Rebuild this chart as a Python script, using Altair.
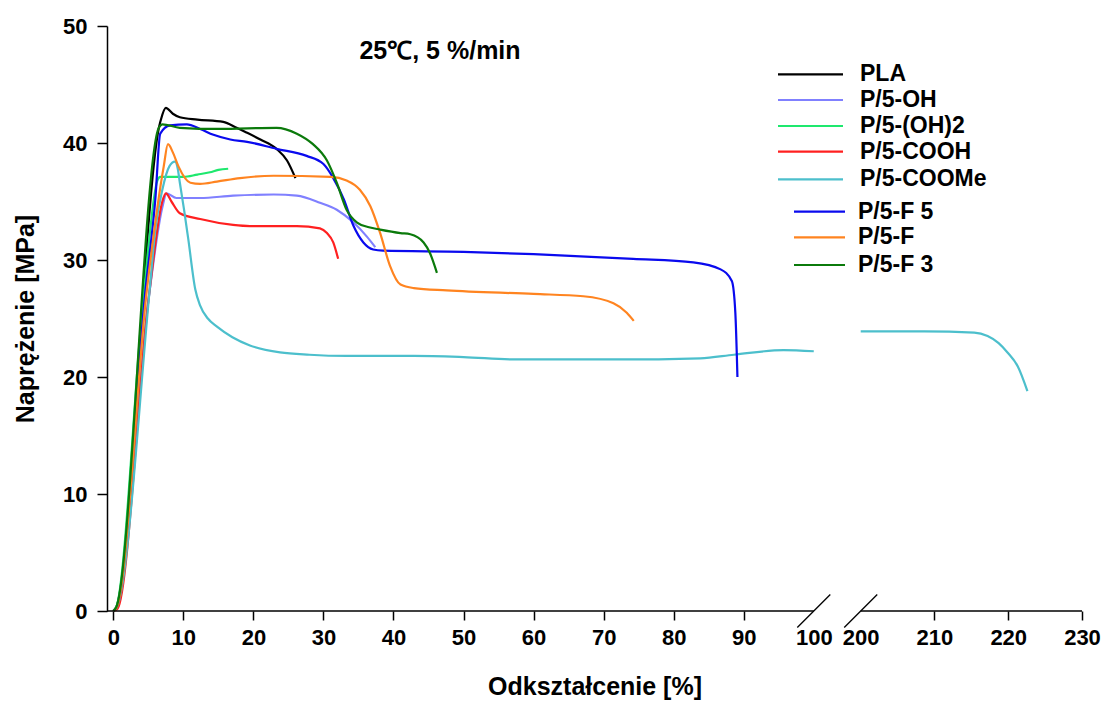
import altair as alt
import pandas as pd

# ---------------- data ----------------
series_names = ["PLA", "P/5-OH", "P/5-(OH)2", "P/5-COOH", "P/5-COOMe", "P/5-F 5", "P/5-F", "P/5-F 3"]
series_colors = ["#000000", "#8080ff", "#1ee86e", "#ff2020", "#4cbfcc", "#0a0aee", "#ff8420", "#0b7a0b"]

pla_x = [0, 0.4, 6.7, 7.5, 8.5, 9.5, 12, 15.7, 17.6, 19, 21, 23.3, 24.8, 26]
pla_y = [0, 0.3, 41.8, 43.0, 42.5, 42.2, 42.0, 41.8, 41.3, 40.9, 40.3, 39.5, 38.5, 37.0]

oh_x = [0, 0.5, 5.0, 7.0, 7.6, 9, 12.4, 17.1, 22.9, 26.2, 29.5, 31.9, 34.3, 36.2, 37.4]
oh_y = [0, 0.3, 26.5, 34.5, 35.7, 35.3, 35.3, 35.5, 35.6, 35.5, 34.9, 34.3, 33.2, 32.0, 31.1]

oh2_x = [0, 0.4, 4.4, 6.3, 6.7, 10, 12, 13.8, 15, 16.4]
oh2_y = [0, 0.3, 27.5, 36.8, 37.1, 37.1, 37.3, 37.5, 37.7, 37.8]

cooh_x = [0, 0.6, 5.1, 7.0, 7.5, 8.3, 9.5, 12.4, 17.1, 19.5, 26.2, 29.5, 30.5, 31.4, 32.1]
cooh_y = [0, 0.2, 27.0, 35.0, 35.7, 35.0, 34.0, 33.5, 33.0, 32.9, 32.9, 32.7, 32.3, 31.5, 30.1]

coome_x = [0, 0.5, 5.2, 6.0, 7.0, 8.0, 8.8, 9.2, 9.5, 10.1, 10.7, 11.7, 12.4, 13.5, 14.8,
           17, 19.5, 23.8, 28, 33.3, 42.9, 50, 57.6, 71.9, 83.8, 88.6, 95.7, 100,
           200, 208.6, 215.4, 217.2, 218.7, 219.9, 221.3, 222.6]
coome_y = [0, 0.3, 27.5, 32.6, 36.0, 38.0, 38.4, 37.8, 36.6, 34.3, 31.8, 27.5, 26.1, 25.0, 24.3,
           23.4, 22.7, 22.1, 21.9, 21.8, 21.8, 21.7, 21.5, 21.5, 21.6, 21.9, 22.3, 22.2,
           23.9, 23.9, 23.8, 23.5, 22.9, 22.1, 20.9, 18.8]

f5_x = [0, 0.5, 4.6, 6.0, 6.7, 8.1, 10.5, 12.4, 14.3, 16.7, 19.1, 23.3, 27.6, 30, 31.4, 32.9, 34.3,
        35.7, 37.1, 38.5, 50, 60, 74.2, 82.8, 86.7, 88.3, 88.8, 89.1]
f5_y = [0, 0.3, 27.5, 35.2, 40.8, 41.5, 41.6, 41.2, 40.7, 40.3, 40.1, 39.5, 38.9, 38.2, 37.0, 35.2, 32.9,
        31.5, 30.9, 30.8, 30.7, 30.5, 30.1, 29.8, 29.2, 28.2, 25.5, 20.0]

f_x = [0, 0.5, 4.8, 7.2, 7.8, 8.5, 9.3, 11, 12.4, 14.8, 18.1, 22.9, 31, 33.3, 35.2, 36.7, 38.1, 39.5,
       41, 42.9, 47.6, 60, 67.1, 71.4, 73.3, 74.3]
f_y = [0, 0.3, 27.5, 38.0, 39.9, 39.2, 38.0, 36.6, 36.5, 36.7, 37.0, 37.2, 37.1, 36.8, 36.0, 34.6, 32.3, 29.5,
       27.9, 27.6, 27.4, 27.1, 26.9, 26.3, 25.5, 24.8]

f3_x = [0, 0.4, 6.5, 7.0, 9.5, 15, 23.3, 26.2, 28.5, 30.5, 31.9, 33.3, 34.8, 36.5, 38.1, 41, 42.4,
        44.3, 45.2, 46.2]
f3_y = [0, 0.3, 41.3, 41.6, 41.3, 41.2, 41.3, 40.8, 39.9, 38.5, 36.6, 34.3, 33.2, 32.8, 32.6, 32.3, 32.2,
        31.5, 30.6, 28.9]

# x tick labels (broken axis: 0-100 then 200-230)
left_ticks = [0, 10, 20, 30, 40, 50, 60, 70, 80, 90, 100]
right_ticks = [200, 210, 220, 230]
y_ticks = [0, 10, 20, 30, 40, 50]

# ---------------- broken-axis mapping ----------------
BREAK_START = 106.7   # axis units where 200 sits
RIGHT_FACTOR = 1.053  # scale factor of the right part
X_MIN = -0.9


def xmap(v):
    return v if v <= 100 else BREAK_START + (v - 200) * RIGHT_FACTOR


X_MAX = xmap(230)

curves = [pla_x, oh_x, oh2_x, cooh_x, coome_x, f5_x, f_x, f3_x]
values = [pla_y, oh_y, oh2_y, cooh_y, coome_y, f5_y, f_y, f3_y]
rows = []
for name, xs, ys in zip(series_names, curves, values):
    for i, (xv, yv) in enumerate(zip(xs, ys)):
        rows.append({"series": name, "x": xv, "y": yv, "seg": 0 if xv <= 100 else 1, "order": i})
df = pd.DataFrame(rows)

W, H = 975, 585
xscale = alt.Scale(domain=[X_MIN, X_MAX], nice=False, zero=False)
yscale = alt.Scale(domain=[0, 50], nice=False, zero=False)
cscale = alt.Scale(domain=series_names, range=series_colors)

FONT = "Liberation Sans"
FS_TICK = 22
FS_TITLE = 25
FS_LEG = 23

tick_vals = [xmap(v) for v in left_ticks + right_ticks]
label_expr = (f"datum.value <= 100.5 ? format(datum.value, 'd') : "
              f"format(round(200 + (datum.value - {BREAK_START}) / {RIGHT_FACTOR}), 'd')")

xaxis = alt.Axis(title="Odkształcenie [%]", values=tick_vals, labelExpr=label_expr,
                 domain=False, grid=False, tickSize=9, tickWidth=1.5, tickColor="black",
                 tickOpacity={"condition": {"test": "datum.value > 99.5 && datum.value < 107", "value": 0}, "value": 1},
                 labelFont=FONT, labelFontSize=FS_TICK, labelFontWeight="bold", labelColor="black",
                 labelPadding=7, labelOverlap=False, labelFlush=False,
                 titleFont=FONT, titleFontSize=FS_TITLE, titleFontWeight="bold", titleColor="black",
                 titlePadding=26)
yaxis = alt.Axis(title="Naprężenie [MPa]", values=y_ticks, grid=False,
                 domainColor="black", domainWidth=1.5, tickSize=10, tickWidth=1.5, tickColor="black",
                 labelFont=FONT, labelFontSize=FS_TICK, labelFontWeight="bold", labelColor="black",
                 labelPadding=10,
                 titleFont=FONT, titleFontSize=FS_TITLE, titleFontWeight="bold", titleColor="black",
                 titlePadding=24)

lines = alt.Chart(df).transform_calculate(
    xt=f"datum.x <= 100 ? datum.x : {BREAK_START} + (datum.x - 200) * {RIGHT_FACTOR}"
).mark_line(strokeWidth=2.2, interpolate="monotone").encode(
    x=alt.X("xt:Q", scale=xscale, axis=xaxis),
    y=alt.Y("y:Q", scale=yscale, axis=yaxis),
    color=alt.Color("series:N", scale=cscale, legend=None),
    detail="seg:N",
    order="order:Q",
)

# x axis line in two pieces with break marks
seg_df = pd.DataFrame({"xs": [X_MIN, BREAK_START], "xe": [100, X_MAX], "y0": [0, 0]})
axis_line = alt.Chart(seg_df).mark_rule(color="black", strokeWidth=1.5).encode(
    x=alt.X("xs:Q", scale=xscale, axis=xaxis), x2="xe:Q",
    y=alt.Y("y0:Q", scale=yscale, axis=yaxis),
)
hx = 16.5 * (X_MAX - X_MIN) / W
hy = 16.5 * 50 / H
brk_df = pd.DataFrame({"c": [100, BREAK_START]})
breaks = alt.Chart(brk_df).transform_calculate(
    x1=f"datum.c - {hx}", x2=f"datum.c + {hx}", y1=f"{-hy}", y2=f"{hy}"
).mark_rule(color="black", strokeWidth=1.3).encode(
    x=alt.X("x1:Q", scale=xscale, axis=xaxis), x2="x2:Q",
    y=alt.Y("y1:Q", scale=yscale, axis=yaxis), y2="y2:Q",
)

# legend (drawn inside the plot)
row_px = [48.3, 74, 100, 125.7, 153.3, 185.7, 211.3, 239]
line_x1_px = [671, 671, 671, 671, 671, 687, 687, 687]
line_x2_px = [736, 736, 736, 736, 736, 738, 738, 738]
text_px = [753, 753, 753, 753, 753, 751, 751, 751]


def px2x(p):
    return X_MIN + p * (X_MAX - X_MIN) / W


def px2y(p):
    return 50 - p * 50 / H


leg_df = pd.DataFrame({
    "series": series_names,
    "ly": [px2y(p) for p in row_px],
    "lx1": [px2x(p) for p in line_x1_px],
    "lx2": [px2x(p) for p in line_x2_px],
    "tx": [px2x(p) for p in text_px],
})
leg_lines = alt.Chart(leg_df).mark_rule(strokeWidth=2.2).encode(
    x=alt.X("lx1:Q", scale=xscale, axis=xaxis), x2="lx2:Q",
    y=alt.Y("ly:Q", scale=yscale, axis=yaxis),
    color=alt.Color("series:N", scale=cscale, legend=None),
)
leg_text = alt.Chart(leg_df).mark_text(align="left", baseline="middle", font=FONT, fontSize=FS_LEG,
                                       fontWeight="bold", color="black").encode(
    x=alt.X("tx:Q", scale=xscale, axis=xaxis),
    y=alt.Y("ly:Q", scale=yscale, axis=yaxis),
    text="series:N",
)

title = alt.Chart(pd.DataFrame({"t": ["25℃, 5 %/min"]})).mark_text(
    align="center", baseline="middle", font=FONT, fontSize=FS_TITLE, fontWeight="bold", color="black"
).encode(x=alt.value(333), y=alt.value(25), text="t:N")

chart = alt.layer(lines, axis_line, breaks, leg_lines, leg_text, title).properties(
    width=W, height=H,
    autosize=alt.AutoSizeParams(type="none"),
    padding={"left": 107, "top": 26, "right": 21, "bottom": 96},
    background="white",
).configure_view(stroke=None)

chart.save("out.html", embed_options={"renderer": "svg", "actions": False})
